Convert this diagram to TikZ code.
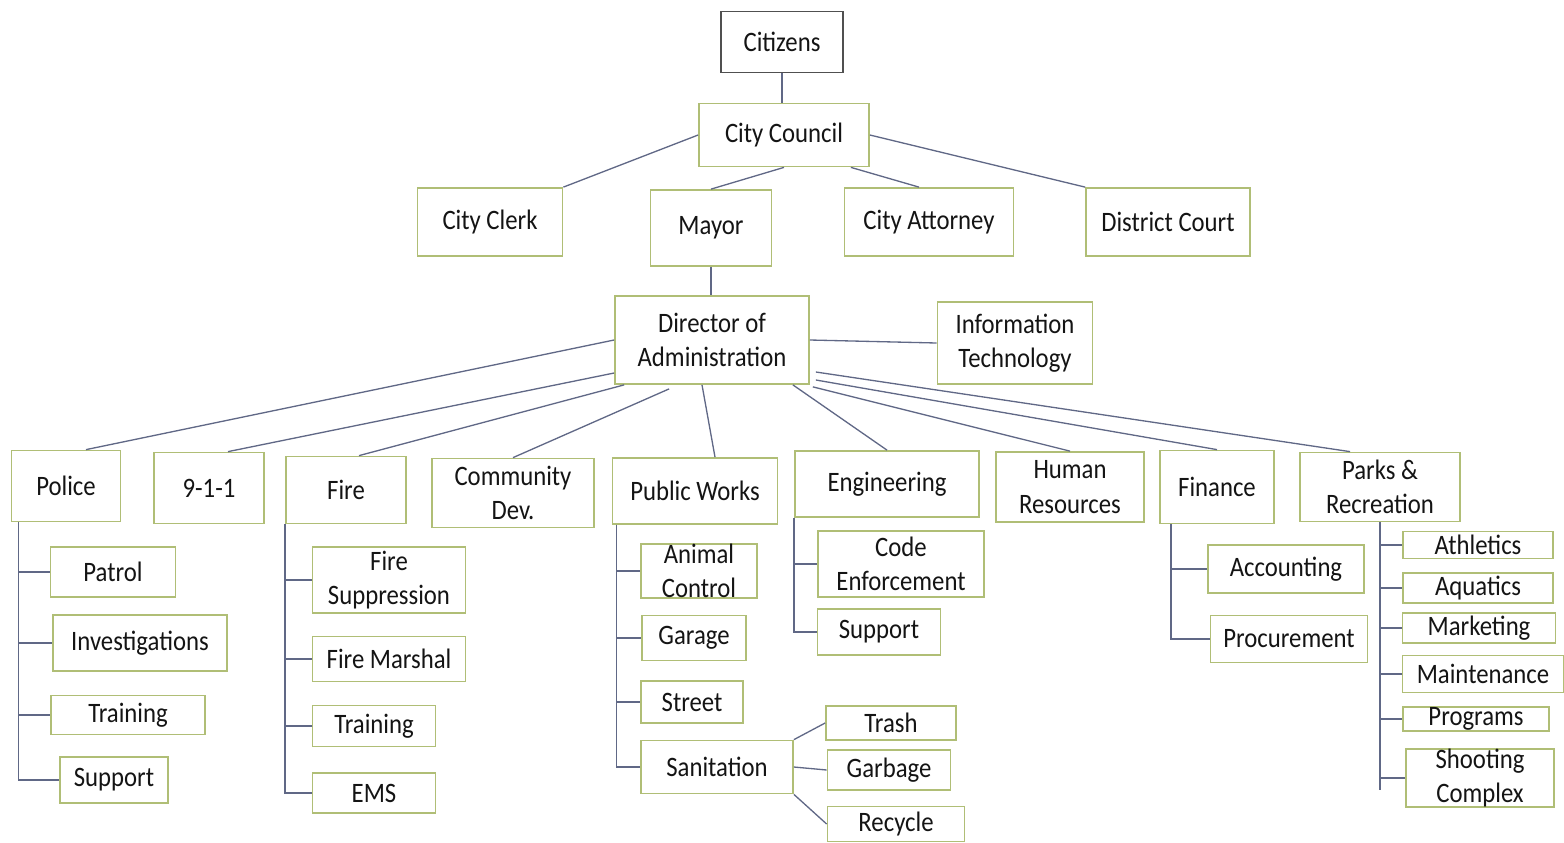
\documentclass[tikz,border=0pt]{standalone}
\usepackage{fontspec}
\setmainfont{Carlito}[FakeStretch=0.88]
\usepackage{tikz}
\usetikzlibrary{calc}
\usetikzlibrary{positioning}
\definecolor{boxline}{RGB}{176,190,118}
\definecolor{citline}{RGB}{80,80,80}
\definecolor{linkline}{RGB}{96,104,134}
\definecolor{ink}{RGB}{20,20,20}
\tikzstyle{unit} = [rectangle, draw=boxline, line width=1pt, fill=white, text=ink, align=center, inner sep=0pt, font=\fontsize{16}{19.5}\selectfont]
\tikzstyle{link} = [draw=linkline, line width=0.75pt]
\tikzset{wh/.style 2 args={minimum width=#1*0.02cm, minimum height=#2*0.02cm}}

\begin{document}
\begin{tikzpicture}[x=0.02cm, y=-0.02cm]

  \useasboundingbox (0,0) rectangle (1564,842);

  % top of the chart
  \node[unit, draw=citline, wh={122}{61}] (citizens) at (782,42) {Citizens};
  \node[unit, wh={170}{63}] (council) at (784,135) {City Council};
  \node[unit, wh={145}{68}] (clerk) at (490,222) {City Clerk};
  \node[unit, wh={121}{76}] (mayor) at (711,228) {Mayor};
  \node[unit, wh={169}{68}] (attorney) at (929,222) {City Attorney};
  \node[unit, wh={164}{68}] (court) at (1168,222) {District Court};
  \node[unit, wh={194}{88}] (director) at (712,340) {Director of\\Administration};
  \node[unit, wh={155}{82}] (infotech) at (1015,343) {Information\\Technology};

  % departments
  \node[unit, wh={109}{71}] (police) at (66,486) {Police};
  \node[unit, wh={110}{71}] (dispatch) at (209,488) {9-1-1};
  \node[unit, wh={120}{67}] (fire) at (346,490) {Fire};
  \node[unit, wh={162}{69}] (commdev) at (513,493) {Community\\Dev.};
  \node[unit, wh={165}{66}] (pubworks) at (695,491) {Public Works};
  \node[unit, wh={184}{66}] (engineering) at (887,484) {Engineering};
  \node[unit, wh={148}{70}] (humres) at (1070,487) {Human\\Resources};
  \node[unit, wh={114}{73}] (finance) at (1217,487) {Finance};
  \node[unit, wh={160}{69}] (parks) at (1380,487) {Parks \&\\Recreation};

  % police
  \node[unit, wh={125}{50}] (patrol) at (113,572) {Patrol};
  \node[unit, wh={174}{56}] (invest) at (140,643) {Investigations};
  \node[unit, wh={154}{39}] (poltrain) at (128,715) {Training};
  \node[unit, wh={108}{46}] (polsup) at (114,780) {Support};

  % fire
  \node[unit, wh={153}{66}] (suppress) at (389,580) {Fire\\Suppression};
  \node[unit, wh={153}{45}] (marshal) at (389,659) {Fire Marshal};
  \node[unit, wh={123}{41}] (firetrain) at (374,726) {Training};
  \node[unit, wh={123}{40}] (ems) at (374,793) {EMS};

  % public works
  \node[unit, wh={116}{54}] (animal) at (699,571) {Animal\\Control};
  \node[unit, wh={104}{45}] (garage) at (694,638) {Garage};
  \node[unit, wh={102}{42}] (street) at (692,702) {Street};
  \node[unit, wh={152}{53}] (sanit) at (717,767) {Sanitation};
  \node[unit, wh={130}{34}] (trash) at (891,723) {Trash};
  \node[unit, wh={123}{40}] (garbage) at (889,770) {Garbage};
  \node[unit, wh={137}{35}] (recycle) at (896,824) {Recycle};

  % engineering
  \node[unit, wh={166}{66}] (codeenf) at (901,564) {Code\\Enforcement};
  \node[unit, wh={123}{46}] (engsup) at (879,632) {Support};

  % finance
  \node[unit, wh={156}{48}] (account) at (1286,569) {Accounting};
  \node[unit, wh={157}{47}] (procure) at (1289,639) {Procurement};

  % parks
  \node[unit, wh={150}{27}] (athletics) at (1478,545) {Athletics};
  \node[unit, wh={150}{30}] (aquatics) at (1478,588) {Aquatics};
  \node[unit, wh={153}{30}] (marketing) at (1479,628) {Marketing};
  \node[unit, wh={161}{37}] (maint) at (1483,674) {Maintenance};
  \node[unit, wh={146}{24}] (programs) at (1476,719) {Programs};
  \node[unit, wh={148}{58}] (shooting) at (1480,778) {Shooting\\Complex};

  % connectors
  \draw[link] (citizens.south) -- (citizens.south |- council.north);
  \draw[link] (council.west) -- (clerk.north east);
  \draw[link] (council.south) -- (mayor.north);
  \draw[link] ($(council.south east)+(-19,0)$) -- ($(attorney.north)+(-10,0)$);
  \draw[link] (council.east) -- (court.north west);
  \draw[link] (mayor.south) -- (mayor.south |- director.north);
  \draw[link] (director.east) -- (infotech.west);

  \draw[link] (director.west) -- ($(police.north)+(20,0)$);
  \draw[link] ($(director.west)+(0,33)$) -- ($(dispatch.north)+(19,0)$);
  \draw[link] ($(director.south west)+(10,0)$) -- ($(fire.north)+(13,0)$);
  \draw[link] ($(director.south west)+(55,4)$) -- (commdev.north);
  \draw[link] ($(director.south)+(-10,0)$) -- ($(pubworks.north)+(20,0)$);
  \draw[link] ($(director.south east)+(-17,0)$) -- (engineering.north);
  \draw[link] ($(director.south east)+(3,2)$) -- (humres.north);
  \draw[link] ($(director.east)+(6,40)$) -- (finance.north);
  \draw[link] ($(director.east)+(6,32)$) -- ($(parks.north)+(-30,0)$);

  \foreach \c in {patrol,invest,poltrain,polsup}
    \draw[link] ($(police.south west)+(8,0)$) |- (\c.west);
  \foreach \c in {suppress,marshal,firetrain,ems}
    \draw[link] (fire.south west) |- (\c.west);
  \foreach \c in {animal,garage,street,sanit}
    \draw[link] ($(pubworks.south west)+(5,0)$) |- (\c.west);
  \foreach \c in {codeenf,engsup}
    \draw[link] (engineering.south west) |- (\c.west);
  \foreach \c in {account,procure}
    \draw[link] ($(finance.south west)+(12,0)$) |- (\c.west);
  \foreach \c in {athletics,aquatics,marketing,maint,programs,shooting}
    \draw[link] ($(parks.south west)+(81,0)$) |- (\c.west);
  \draw[link] ($(parks.south west)+(81,0)$) -- ($(parks.south west)+(81,268)$);

  \draw[link] (sanit.north east) -- (trash.west);
  \draw[link] (sanit.east) -- (garbage.west);
  \draw[link] (sanit.south east) -- (recycle.west);

\end{tikzpicture}
\end{document}
